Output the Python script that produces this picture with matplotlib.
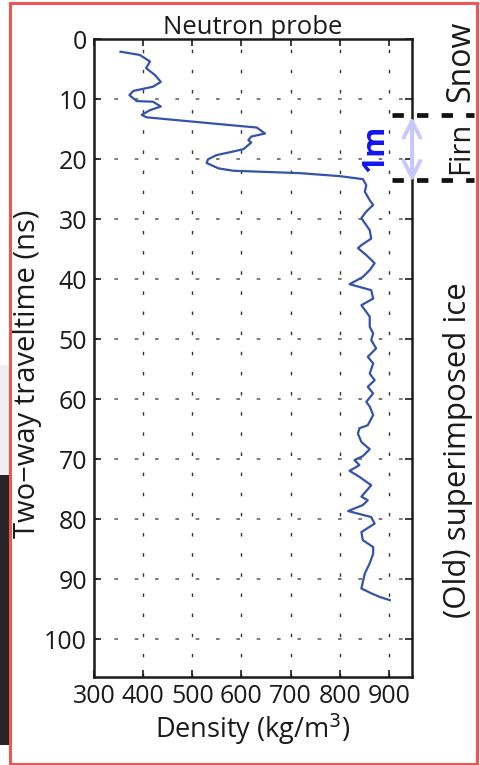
import matplotlib
matplotlib.use("Agg")
import matplotlib.pyplot as plt
from matplotlib.patches import Rectangle

plt.rcParams['font.family'] = ['Open Sans', 'DejaVu Sans']

# Neutron probe density profile (kg/m^3) vs two-way traveltime (ns)
density = [354, 393, 414, 406, 424, 436, 420, 380, 372, 387, 420, 436, 414, 397, 407,
           597, 631, 648, 620, 614, 620, 604, 583, 549, 532, 529, 553, 583, 719, 800,
           847, 854, 851, 861, 868, 854, 844, 861, 864, 844, 837, 854, 871, 861, 847,
           820, 864, 868, 844, 851, 861, 861, 868, 864, 874, 857, 868, 861, 871, 857,
           868, 854, 861, 868, 857, 840, 837, 844, 861, 847, 830, 840, 820, 840, 864,
           844, 857, 847, 817, 864, 871, 844, 847, 868, 868, 861, 851, 847, 844, 864,
           881, 902]
twt = [2.07, 2.6, 3.7, 4.8, 5.95, 7.1, 7.9, 8.6, 9.3, 10.3, 10.4, 11.2, 11.8, 12.6, 13.0,
       14.45, 14.7, 15.7, 16.2, 16.8, 17.2, 18.3, 18.7, 19.3, 20.0, 20.6, 21.5, 21.9, 22.3, 22.8,
       23.3, 24.3, 25.4, 26.8, 27.6, 28.7, 29.8, 31.8, 33.2, 34.3, 34.8, 35.95, 37.3, 38.45, 39.6,
       40.8, 41.8, 43.2, 44.3, 45.1, 46.2, 47.9, 49.0, 50.1, 51.5, 52.9, 54.0, 55.7, 56.8, 57.9,
       59.0, 60.4, 61.2, 62.6, 64.3, 64.8, 65.7, 67.1, 68.3, 69.45, 70.1, 70.95, 71.9, 72.9, 74.3,
       76.2, 76.8, 77.6, 78.6, 79.6, 80.7, 82.1, 83.45, 84.6, 85.7, 87.3, 89.0, 90.4, 91.5, 92.3,
       92.9, 93.45]

x_ticks = [300, 400, 500, 600, 700, 800, 900]
y_ticks = [0, 10, 20, 30, 40, 50, 60, 70, 80, 90, 100]
firn_top, firn_bottom = 12.6, 23.45

W, H = 481, 765
fig = plt.figure(figsize=(W / 100, H / 100), dpi=100)
ax = fig.add_axes([94 / W, 1 - 676.7 / H, (412 - 94) / W, (676.7 - 39.3) / H])

ax.plot(density, twt, color='#3553a8', lw=1.6)
ax.set_xlim(300, 947)
ax.set_ylim(106.2, 0)
ax.set_xticks(x_ticks)
ax.set_yticks(y_ticks)
ax.tick_params(direction='in', length=5, width=1.2, top=True, right=True,
               labelsize=18, colors='#1a1a1a', pad=5)
for s in ax.spines.values():
    s.set_linewidth(1.8)
    s.set_color('#1a1a1a')
for xv in x_ticks[1:]:
    ax.axvline(xv, color='#333333', lw=1, dashes=(2.5, 12), zorder=0)
for yv in y_ticks[1:]:
    ax.axhline(yv, color='#666666', lw=1.2, dashes=(2.2, 10), zorder=0)

ax.set_title('Neutron probe', fontsize=18.5, color='#1a1a1a', pad=4)
ax.set_xlabel('Density (kg/m$^3$)', fontsize=19.5, color='#1a1a1a', labelpad=2)
fig.text(28 / W, 1 - 374 / H, 'Two\u2212way traveltime (ns)', rotation=90, fontsize=21,
         ha='center', va='center', color='#1a1a1a')

# annotations
for yv in (firn_top, firn_bottom):
    ax.plot([906, 1073], [yv, yv], color='#111111', lw=3.4, dashes=(2.4, 2.8),
            clip_on=False, zorder=5)
ax.annotate('', xy=(947, firn_top + 0.3), xytext=(947, firn_bottom + 0.3),
            arrowprops=dict(arrowstyle='<->', color='#c8c8ff', lw=2.8,
                            mutation_scale=30, shrinkA=0, shrinkB=0),
            annotation_clip=False, zorder=6)
ax.text(873, 18.1, '1m', rotation=90, color='#1414f0',
        fontsize=22, fontweight='bold', ha='center', va='center')
fig.text(461 / W, 1 - 148 / H, 'Firn', rotation=90, fontsize=21, ha='center', va='center',
         color='#1a1a1a')
fig.text(461 / W, 1 - 61 / H, 'Snow', rotation=90, fontsize=23, ha='center', va='center',
         color='#1a1a1a')
fig.text(458 / W, 1 - 450 / H, '(Old) superimposed ice', rotation=90, fontsize=22.5,
         ha='center', va='center', color='#1a1a1a')

# background fragments and red frame
fig.patches.append(Rectangle((0, 1 - 475 / H), 9 / W, 110 / H, transform=fig.transFigure,
                             facecolor='#efefef', edgecolor='none', zorder=-5))
fig.patches.append(Rectangle((0, 1 - 745 / H), 10 / W, 270 / H, transform=fig.transFigure,
                             facecolor='#262626', edgecolor='none', zorder=-5))
fig.patches.append(Rectangle((10 / W, 1.5 / H), 467 / W, 761 / H, transform=fig.transFigure,
                             facecolor='none', edgecolor='#f05555', lw=2.2, zorder=10))

fig.savefig('out.png', dpi=100)
